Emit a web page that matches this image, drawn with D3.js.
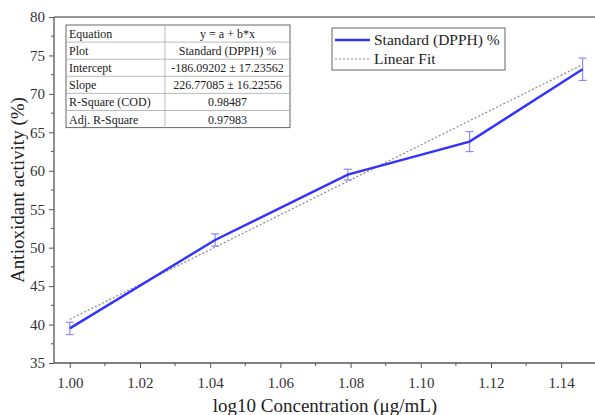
<!DOCTYPE html>
<html><head><meta charset="utf-8">
<script src="https://cdn.jsdelivr.net/npm/d3@7"></script>
<style>body{margin:0;background:#fff}svg{display:block}text{font-family:"Liberation Serif","Times New Roman",serif}</style>
</head><body><svg id="c" width="595" height="415"></svg>
<script>
const xValues = [1.0, 1.0414, 1.0792, 1.1139, 1.1461];
const yValues = [39.5, 51.0, 59.5, 63.8, 73.2];
const yErrors = [0.8, 0.8, 0.7, 1.3, 1.45];
const fitIntercept = -186.09202, fitSlope = 226.77085;
const xTicks = [1.00, 1.02, 1.04, 1.06, 1.08, 1.10, 1.12, 1.14];
const yTicks = [35, 40, 45, 50, 55, 60, 65, 70, 75, 80];
const tableRows = [
  ["Equation", "y = a + b*x"],
  ["Plot", "Standard (DPPH) %"],
  ["Intercept", "-186.09202 ± 17.23562"],
  ["Slope", "226.77085 ± 16.22556"],
  ["R-Square (COD)", "0.98487"],
  ["Adj. R-Square", "0.97983"]
];
const legendItems = ["Standard (DPPH) %", "Linear Fit"];

const svg = d3.select("#c");
const L = 54, T = 17, B = 363;
const x = d3.scaleLinear().domain([0.9955, 1.1655]).range([L, L + (1.1655-0.9955)/0.02*70.2]);
const y = d3.scaleLinear().domain([35, 80]).range([B, T]);
const axisColor = "#555";

// top frame line
svg.append("line").attr("x1", L).attr("x2", 595).attr("y1", T).attr("y2", T).attr("stroke", "#777").attr("stroke-width", 1.5);

// x axis
const gx = svg.append("g").attr("transform", `translate(0,${B})`);
gx.call(d3.axisBottom(x).tickValues(xTicks).tickFormat(d3.format(".2f")).tickSize(5).tickPadding(9));
gx.call(g => g.select(".domain").attr("d", `M${L},0H595`));
const xMinor = d3.range(1.01, 1.16, 0.02);
gx.selectAll(".minor").data(xMinor).enter().append("line").attr("class","minor")
  .attr("x1", d => x(d)).attr("x2", d => x(d)).attr("y1", 0).attr("y2", 3).attr("stroke", axisColor);

// y axis
const gy = svg.append("g").attr("transform", `translate(${L},0)`);
gy.call(d3.axisLeft(y).tickValues(yTicks).tickSize(5).tickPadding(4));
gy.call(g => g.select(".domain").attr("d", `M0,${B}V${T}`));
const yMinor = d3.range(37.5, 80, 5);
gy.selectAll(".minor").data(yMinor).enter().append("line").attr("class","minor")
  .attr("x1", 0).attr("x2", -3).attr("y1", d => y(d)).attr("y2", d => y(d)).attr("stroke", axisColor);

svg.selectAll(".domain").attr("stroke", axisColor).attr("stroke-width", 1.3);
svg.selectAll(".tick line").attr("stroke", axisColor);
svg.selectAll(".tick text").attr("font-size", 15).attr("fill", "#333").attr("font-family", "Liberation Serif");

// titles
svg.append("text").attr("x", 325).attr("y", 412).attr("text-anchor", "middle").attr("font-size", 19).attr("fill", "#222")
  .text("log10 Concentration (μg/mL)");
svg.append("text").attr("transform", `translate(24,190) rotate(-90)`).attr("text-anchor", "middle").attr("font-size", 19).attr("fill", "#222")
  .text("Antioxidant activity (%)");

// fit line
const fitX = [xValues[0], xValues[xValues.length-1]];
svg.append("path").datum(fitX).attr("fill", "none").attr("stroke", "#888").attr("stroke-width", 1.2).attr("stroke-dasharray", "2,2")
  .attr("d", d3.line().x(d => x(d)).y(d => y(fitIntercept + fitSlope*d)));

// error bars
const eb = svg.append("g").attr("stroke", "#8a8aff").attr("stroke-width", 1.2);
xValues.forEach((xv, i) => {
  const cx = x(xv), y1 = y(yValues[i] + yErrors[i]), y2 = y(yValues[i] - yErrors[i]);
  eb.append("line").attr("x1", cx).attr("x2", cx).attr("y1", y1).attr("y2", y2);
  eb.append("line").attr("x1", cx-4).attr("x2", cx+4).attr("y1", y1).attr("y2", y1);
  eb.append("line").attr("x1", cx-4).attr("x2", cx+4).attr("y1", y2).attr("y2", y2);
});

// data line
svg.append("path").datum(xValues.map((d,i)=>[d, yValues[i]])).attr("fill","none").attr("stroke","#3333ff").attr("stroke-width",2.4)
  .attr("d", d3.line().x(d => x(d[0])).y(d => y(d[1])));

// table
const tx = 66, ty = 25, rh = 17.1, c1 = 99, c2 = 125;
const tg = svg.append("g");
tg.append("rect").attr("x", tx).attr("y", ty).attr("width", c1+c2).attr("height", rh*tableRows.length)
  .attr("fill", "#fff").attr("stroke", "#666").attr("stroke-width", 1);
tableRows.forEach((r, i) => {
  if (i > 0) tg.append("line").attr("x1", tx).attr("x2", tx+c1+c2).attr("y1", ty+rh*i).attr("y2", ty+rh*i).attr("stroke", "#aaa").attr("stroke-width", 0.8);
  tg.append("text").attr("x", tx+3).attr("y", ty+rh*i+13).attr("font-size", 12).attr("fill", "#222").text(r[0]);
  tg.append("text").attr("x", tx+c1+c2/2).attr("y", ty+rh*i+13).attr("font-size", 12).attr("fill", "#222").attr("text-anchor","middle").text(r[1]);
});
tg.append("line").attr("x1", tx+c1).attr("x2", tx+c1).attr("y1", ty).attr("y2", ty+rh*tableRows.length).attr("stroke", "#aaa").attr("stroke-width", 0.8);

// legend
const lx = 332, ly = 28;
const lg = svg.append("g");
lg.append("rect").attr("x", lx).attr("y", ly).attr("width", 173).attr("height", 42).attr("fill", "#fff").attr("stroke", "#666").attr("stroke-width", 1);
lg.append("line").attr("x1", lx+3).attr("x2", lx+38).attr("y1", ly+12).attr("y2", ly+12).attr("stroke", "#3333ff").attr("stroke-width", 2.4);
lg.append("line").attr("x1", lx+3).attr("x2", lx+38).attr("y1", ly+31).attr("y2", ly+31).attr("stroke", "#888").attr("stroke-width", 1.2).attr("stroke-dasharray", "2,2");
legendItems.forEach((t, i) => {
  lg.append("text").attr("x", lx+42).attr("y", ly+17+i*19).attr("font-size", 15.5).attr("fill", "#222").text(t);
});
</script></body></html>
